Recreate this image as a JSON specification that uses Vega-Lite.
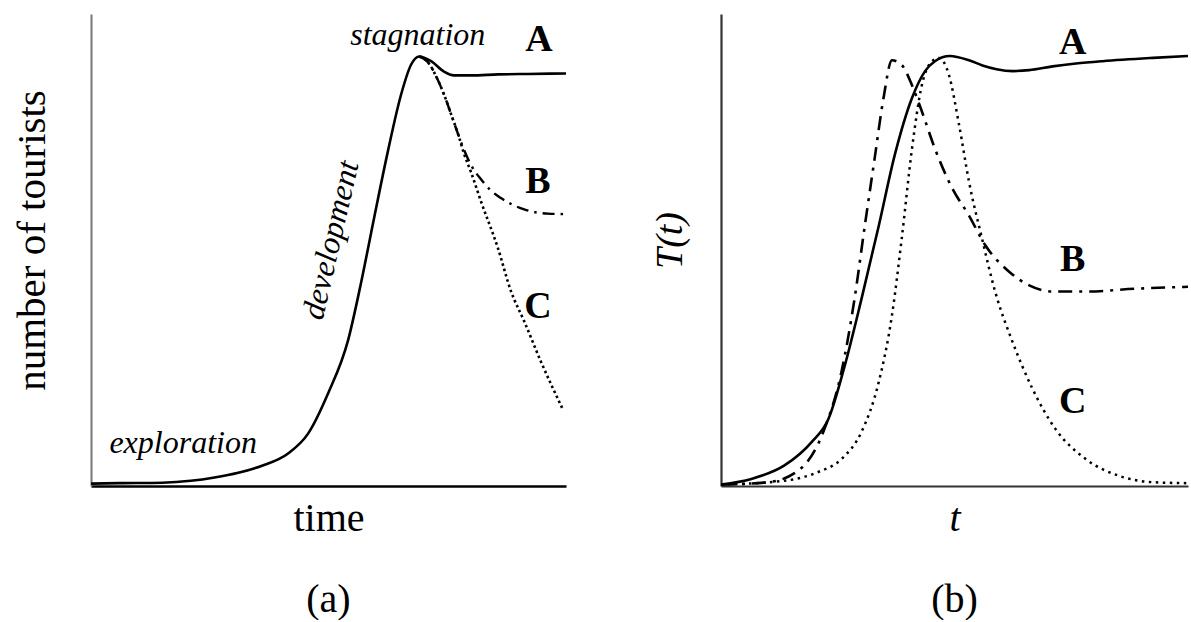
{
  "$schema": "https://vega.github.io/schema/vega-lite/v6.json",
  "padding": {"left": 11, "top": 14, "right": 0, "bottom": 0},
  "spacing": 79,
  "background": "white",
  "config": {"view": {"stroke": null}, "font": "Liberation Serif"},
  "datasets": {
    "leftA": [
      {"x": 0, "y": 0.5}, {"x": 6, "y": 0.6}, {"x": 15, "y": 0.7}, {"x": 21, "y": 1.1}, {"x": 26, "y": 1.8},
      {"x": 31, "y": 2.8}, {"x": 36, "y": 4.3}, {"x": 41.5, "y": 6.9}, {"x": 45.7, "y": 11.1}, {"x": 49.9, "y": 19.6},
      {"x": 54.1, "y": 30.8}, {"x": 56.8, "y": 42.8}, {"x": 59.6, "y": 56.8}, {"x": 62.5, "y": 70.9}, {"x": 65.3, "y": 83},
      {"x": 67.4, "y": 89.3}, {"x": 69.1, "y": 91}, {"x": 71.6, "y": 90}, {"x": 74.3, "y": 87.8}, {"x": 76.4, "y": 87},
      {"x": 80, "y": 87}, {"x": 85.7, "y": 87.2}, {"x": 92, "y": 87.3}, {"x": 100, "y": 87.4}
    ],
    "leftB": [
      {"x": 69.1, "y": 91}, {"x": 71, "y": 89.7}, {"x": 72.8, "y": 86.5}, {"x": 74.3, "y": 83}, {"x": 75.8, "y": 78.8},
      {"x": 77.3, "y": 74.5}, {"x": 78.5, "y": 71.3}, {"x": 80, "y": 68}, {"x": 82.1, "y": 65}, {"x": 84, "y": 62.8},
      {"x": 86.3, "y": 61}, {"x": 91.2, "y": 58.6}, {"x": 96.2, "y": 57.7}, {"x": 100, "y": 57.6}
    ],
    "leftC": [
      {"x": 69.1, "y": 91}, {"x": 71, "y": 89.7}, {"x": 72.8, "y": 86.5}, {"x": 74.3, "y": 83}, {"x": 75.8, "y": 78.8},
      {"x": 77.3, "y": 74.5}, {"x": 78.5, "y": 70.5}, {"x": 80, "y": 66.5}, {"x": 82.1, "y": 60.3}, {"x": 85.7, "y": 50.3},
      {"x": 88.4, "y": 41.3}, {"x": 91.2, "y": 34.9}, {"x": 94.7, "y": 26.4}, {"x": 99.3, "y": 16.3}
    ],
    "leftPhase": [
      {"x": 68.8, "y": 95.6, "label": "stagnation"},
      {"x": 19.4, "y": 9.1, "label": "exploration"}
    ],
    "leftDev": [
      {"x": 50.5, "y": 52.1, "label": "development"}
    ],
    "leftLetters": [
      {"x": 94.3, "y": 94.5, "label": "A"},
      {"x": 94.1, "y": 64.4, "label": "B"},
      {"x": 94.1, "y": 37.9, "label": "C"}
    ],
    "rightA": [
      {"x": 0, "y": 0.3}, {"x": 6.5, "y": 1.5}, {"x": 13.5, "y": 4.3}, {"x": 19.4, "y": 9.3}, {"x": 23, "y": 14.2},
      {"x": 26.5, "y": 25.5}, {"x": 30.1, "y": 39.7}, {"x": 33.8, "y": 55.2}, {"x": 37.2, "y": 70.1}, {"x": 40.9, "y": 82.2},
      {"x": 43.7, "y": 87.9}, {"x": 45.8, "y": 90}, {"x": 49, "y": 91.1}, {"x": 53.1, "y": 90.2}, {"x": 56, "y": 89.1},
      {"x": 59, "y": 88.3}, {"x": 62.5, "y": 87.9}, {"x": 66, "y": 88.1}, {"x": 71, "y": 88.9}, {"x": 76, "y": 89.5},
      {"x": 81.7, "y": 90}, {"x": 92.5, "y": 90.7}, {"x": 100, "y": 91.1}
    ],
    "rightB": [
      {"x": 0, "y": 0.3}, {"x": 10.1, "y": 0.8}, {"x": 17.2, "y": 3.8}, {"x": 22.2, "y": 12.2}, {"x": 25.8, "y": 24.2},
      {"x": 28.6, "y": 39.7}, {"x": 30.8, "y": 55.2}, {"x": 32.9, "y": 69.4}, {"x": 34.8, "y": 82.2}, {"x": 36.6, "y": 90.2},
      {"x": 38.7, "y": 89.2}, {"x": 40.9, "y": 84.9}, {"x": 43, "y": 79.4}, {"x": 45.8, "y": 71.5}, {"x": 49.5, "y": 63.1},
      {"x": 53.1, "y": 57.3}, {"x": 56.6, "y": 51}, {"x": 61.7, "y": 45.4}, {"x": 66, "y": 42.5}, {"x": 71, "y": 41.2},
      {"x": 78.1, "y": 41.2}, {"x": 88.8, "y": 41.8}, {"x": 100, "y": 42.2}
    ],
    "rightC": [
      {"x": 0, "y": 0.3}, {"x": 13.5, "y": 1.1}, {"x": 20.9, "y": 3}, {"x": 25.8, "y": 5.7}, {"x": 30.1, "y": 11.5},
      {"x": 33.8, "y": 22.1}, {"x": 36.6, "y": 36.1}, {"x": 38.7, "y": 52.4}, {"x": 40.9, "y": 71.5}, {"x": 43, "y": 84.9},
      {"x": 45.2, "y": 90}, {"x": 46.7, "y": 90.7}, {"x": 48.8, "y": 87.1}, {"x": 51, "y": 76.4}, {"x": 53.1, "y": 64.5},
      {"x": 55.9, "y": 52.4}, {"x": 58.7, "y": 41.2}, {"x": 62.4, "y": 30.6}, {"x": 66.7, "y": 20.6}, {"x": 71.6, "y": 12.1},
      {"x": 78.1, "y": 5.7}, {"x": 85.4, "y": 2.1}, {"x": 92.5, "y": 0.8}, {"x": 100, "y": 0.6}
    ],
    "rightLetters": [
      {"x": 75.3, "y": 93.9, "label": "A"},
      {"x": 75.3, "y": 47.9, "label": "B"},
      {"x": 75.3, "y": 17.8, "label": "C"}
    ]
  },
  "hconcat": [
    {
      "width": 475,
      "height": 472,
      "title": {"text": "(a)", "orient": "bottom", "anchor": "middle", "font": "Liberation Serif", "fontSize": 40, "fontWeight": "normal", "color": "#000", "baseline": "alphabetic", "offset": 74},
      "encoding": {
        "x": {"field": "x", "type": "quantitative", "scale": {"domain": [0, 100], "nice": false, "zero": false},
              "axis": {"title": "time", "labels": false, "ticks": false, "grid": false, "domainColor": "#000", "domainWidth": 2.5,
                       "titleFont": "Liberation Serif", "titleFontSize": 40, "titleFontWeight": "normal", "titleColor": "#000",
                       "titleBaseline": "alphabetic", "titlePadding": 44}},
        "y": {"field": "y", "type": "quantitative", "scale": {"domain": [0, 100], "nice": false, "zero": false},
              "axis": {"title": "number of tourists", "labels": false, "ticks": false, "grid": false, "domainColor": "#777", "domainWidth": 2,
                       "titleFont": "Liberation Serif", "titleFontSize": 41, "titleFontWeight": "normal", "titleColor": "#000",
                       "titleBaseline": "alphabetic", "titlePadding": 47, "titleY": 226}}
      },
      "layer": [
        {"data": {"name": "leftC"}, "mark": {"type": "line", "interpolate": "monotone", "color": "#000", "strokeWidth": 2.6, "strokeDash": [2.5, 3]}},
        {"data": {"name": "leftB"}, "mark": {"type": "line", "interpolate": "monotone", "color": "#000", "strokeWidth": 2.4, "strokeDash": [12, 6, 2.5, 6]}},
        {"data": {"name": "leftA"}, "mark": {"type": "line", "interpolate": "monotone", "color": "#000", "strokeWidth": 2.6}},
        {"data": {"name": "leftPhase"}, "mark": {"type": "text", "font": "Liberation Serif", "fontStyle": "italic", "fontSize": 32, "color": "#000", "baseline": "middle", "align": "center"},
         "encoding": {"text": {"field": "label"}}},
        {"data": {"name": "leftDev"}, "mark": {"type": "text", "font": "Liberation Serif", "fontStyle": "italic", "fontSize": 32, "color": "#000", "baseline": "middle", "align": "center", "angle": 283},
         "encoding": {"text": {"field": "label"}}},
        {"data": {"name": "leftLetters"}, "mark": {"type": "text", "font": "Liberation Serif", "fontWeight": "bold", "fontSize": 38, "color": "#000", "baseline": "middle", "align": "center"},
         "encoding": {"text": {"field": "label"}}}
      ]
    },
    {
      "width": 467,
      "height": 472,
      "title": {"text": "(b)", "orient": "bottom", "anchor": "middle", "font": "Liberation Serif", "fontSize": 40, "fontWeight": "normal", "color": "#000", "baseline": "alphabetic", "offset": 74},
      "encoding": {
        "x": {"field": "x", "type": "quantitative", "scale": {"domain": [0, 100], "nice": false, "zero": false},
              "axis": {"title": "t", "labels": false, "ticks": false, "grid": false, "domainColor": "#333", "domainWidth": 2.2,
                       "titleFont": "Liberation Serif", "titleFontSize": 40, "titleFontWeight": "normal", "titleFontStyle": "italic", "titleColor": "#000",
                       "titleBaseline": "alphabetic", "titlePadding": 44}},
        "y": {"field": "y", "type": "quantitative", "scale": {"domain": [0, 100], "nice": false, "zero": false},
              "axis": {"title": "T(t)", "labels": false, "ticks": false, "grid": false, "domainColor": "#333", "domainWidth": 2.2,
                       "titleFont": "Liberation Serif", "titleFontSize": 38, "titleFontWeight": "normal", "titleFontStyle": "italic", "titleColor": "#000",
                       "titleBaseline": "alphabetic", "titlePadding": 40, "titleY": 226}}
      },
      "layer": [
        {"data": {"name": "rightC"}, "mark": {"type": "line", "interpolate": "monotone", "color": "#000", "strokeWidth": 2.5, "strokeDash": [2.5, 4.5]}},
        {"data": {"name": "rightB"}, "mark": {"type": "line", "interpolate": "monotone", "color": "#000", "strokeWidth": 2.6, "strokeDash": [14, 7, 3, 7]}},
        {"data": {"name": "rightA"}, "mark": {"type": "line", "interpolate": "monotone", "color": "#000", "strokeWidth": 2.6}},
        {"data": {"name": "rightLetters"}, "mark": {"type": "text", "font": "Liberation Serif", "fontWeight": "bold", "fontSize": 38, "color": "#000", "baseline": "middle", "align": "center"},
         "encoding": {"text": {"field": "label"}}}
      ]
    }
  ]
}
